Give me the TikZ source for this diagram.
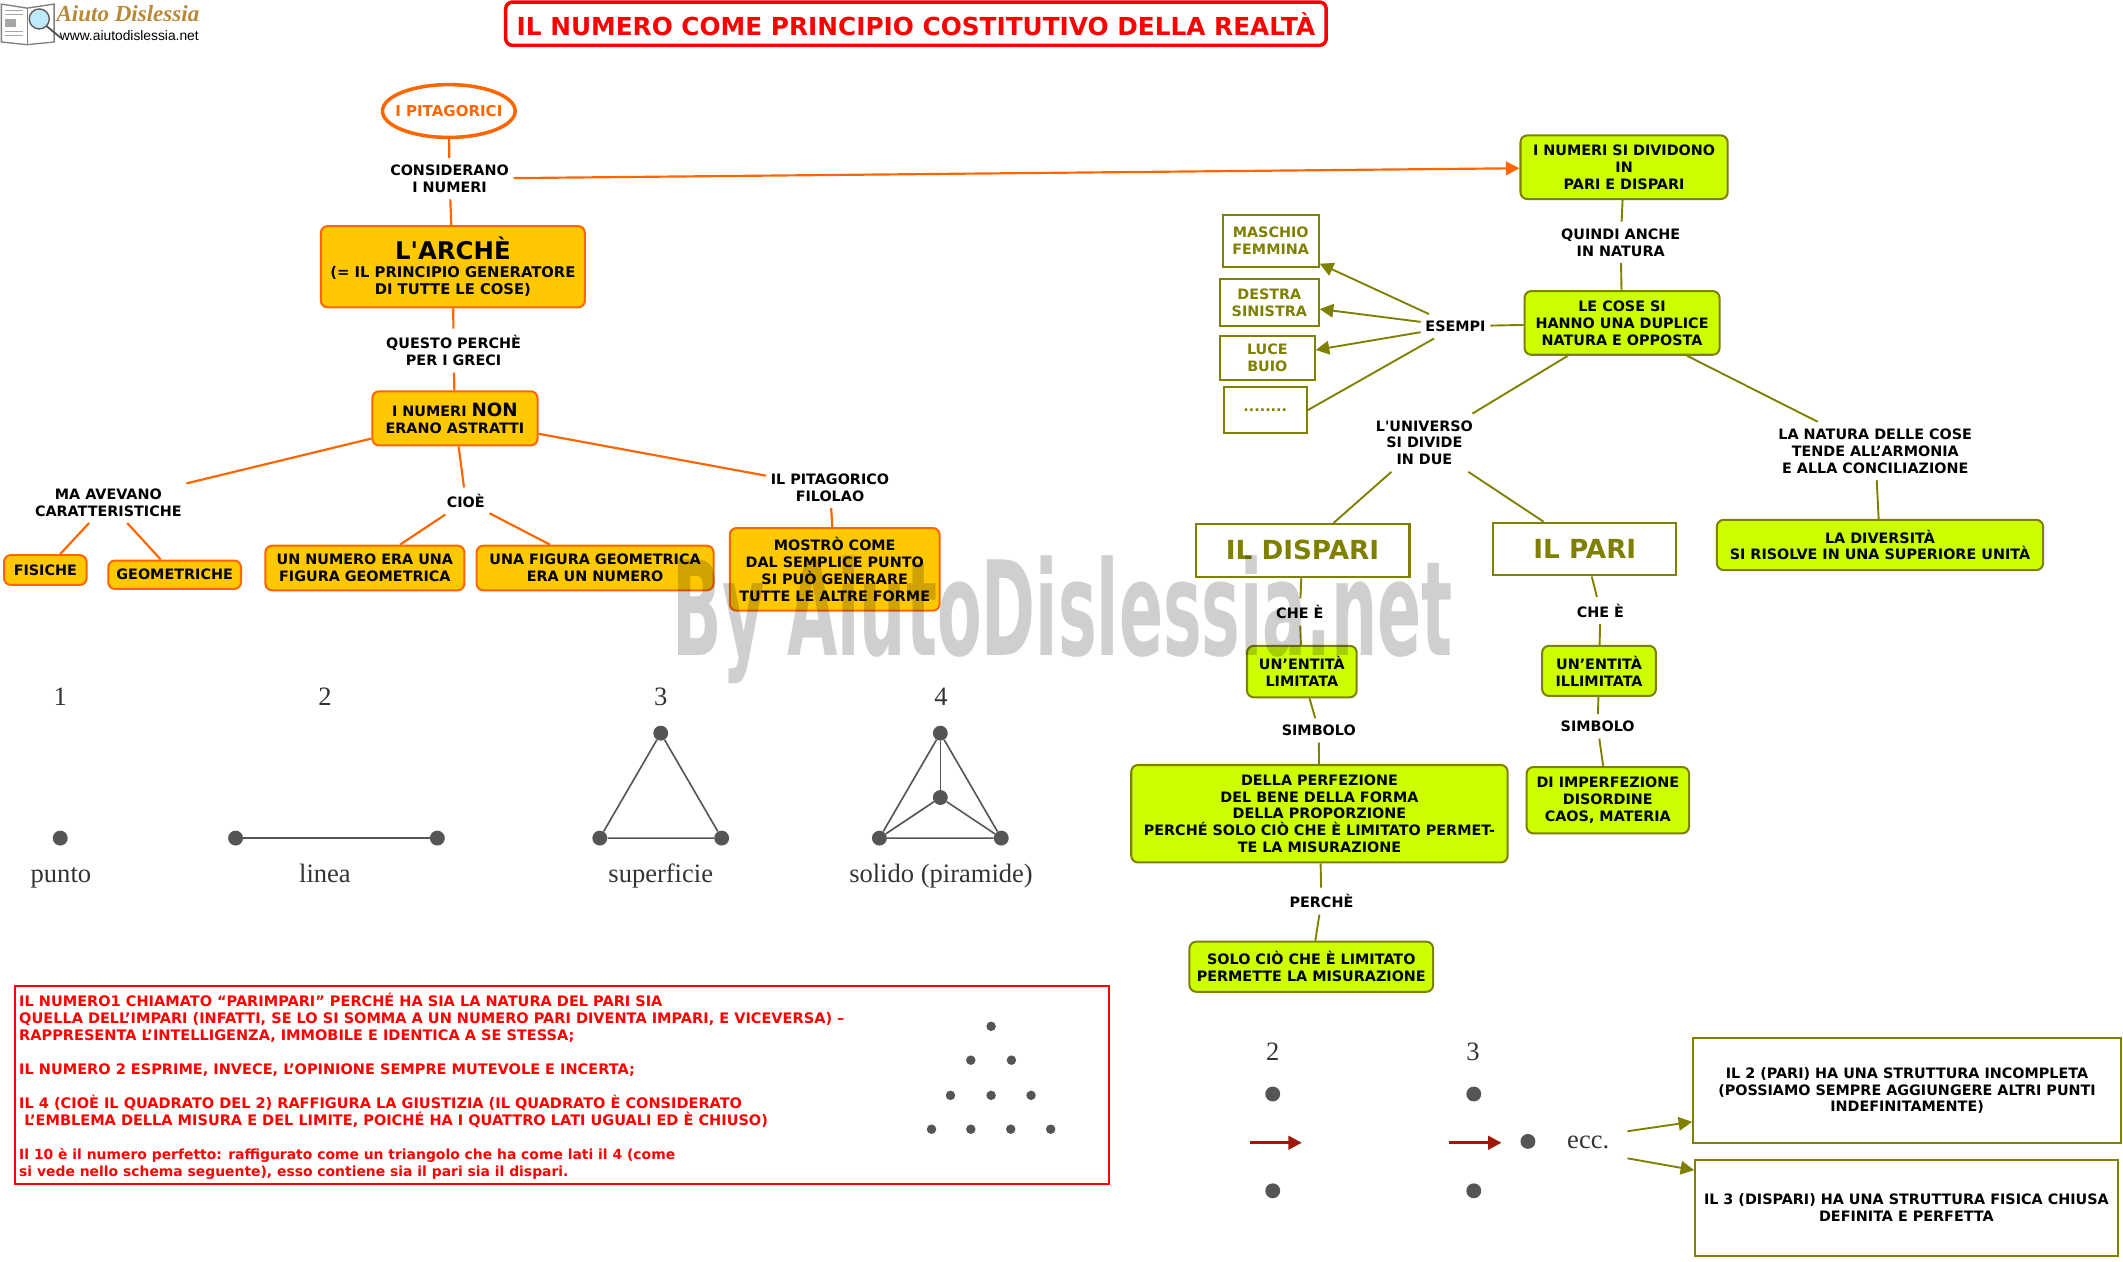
\documentclass[tikz,border=0pt]{standalone}
\usepackage{fontspec}
\usepackage{amsmath}
\usetikzlibrary{arrows.meta,shapes.geometric}
\setmainfont{DejaVu Sans}[Ligatures=TeXOff]
\newfontfamily\numfont{Liberation Serif}
\newfontfamily\webfont{Liberation Sans}
\definecolor{mapred}{HTML}{FF0000}
\definecolor{maporange}{HTML}{FF6600}
\definecolor{mapyellow}{HTML}{FFC800}
\definecolor{mapgreen}{HTML}{CCFF00}
\definecolor{mapolive}{HTML}{808000}
\definecolor{dotgray}{HTML}{555555}
\definecolor{arrowred}{HTML}{A01808}
\definecolor{logogold}{HTML}{B98A35}
\newcommand{\mapfont}{\bfseries\fontsize{10.6}{12.5}\selectfont}
\newcommand{\bigfont}{\bfseries\fontsize{18}{20}\selectfont}
\newcommand{\sidefont}{\bfseries\fontsize{19.4}{21}\selectfont}
\newcommand{\capsred}{\fontsize{10.72}{12.6}\selectfont}
\newcommand{\lowred}{\fontsize{10.27}{12.6}\selectfont}
\tikzset{
  linktext/.style={font=\mapfont,align=center,inner ysep=4.8pt},
  mapbox/.style={rounded corners=5pt,line width=1.5pt,font=\mapfont,align=center,inner sep=2pt},
  yellowbox/.style={mapbox,draw=maporange,fill=mapyellow},
  greenbox/.style={mapbox,draw=mapolive,fill=mapgreen},
  whitebox/.style={draw=mapolive,line width=1.5pt,font=\mapfont,align=center,inner sep=2pt,fill=white},
  olivebox/.style={whitebox,text=mapolive},
  orangelink/.style={color=maporange,line width=1.6pt},
  olivelink/.style={color=mapolive,line width=1.4pt},
  redarrow/.style={color=arrowred,line width=2.2pt},
  dot/.style={circle,fill=dotgray,inner sep=0pt,minimum size=11pt},
  smalldot/.style={circle,fill=dotgray,inner sep=0pt,minimum size=7pt},
  dotline/.style={draw=dotgray,line width=1.2pt},
  numtext/.style={font=\numfont\fontsize{19.6}{22}\selectfont,text=black!80,anchor=base},
}

\begin{document}
\begin{tikzpicture}[x=1pt,y=-1pt,>/.tip={Triangle[length=10pt,width=10pt]}]
\useasboundingbox (0,0) rectangle (1568,932);

% logo
\draw[gray,line width=1pt,fill=white] (1,3) -- (20,6) -- (40,3) -- (40,31) -- (20,33) -- (1,31) -- cycle;
\draw[gray] (20,6) -- (20,33);
\fill[gray!70] (4,14) rectangle (12,20);
\foreach \ly in {8,11,23,26}
  \draw[gray!70,line width=.7pt] (4,\ly) -- (17,\ly);
\draw[line width=1.3pt,black!70] (34,19) -- (45,28);
\draw[gray!70!black,line width=1pt,fill=cyan!25] (29,14) circle (7.4pt);
\node (logoname) [font=\numfont\bfseries\itshape\fontsize{17}{18}\selectfont,text=logogold] at (94.5,10) {Aiuto Dislessia};
\node (logoweb) [font=\webfont\fontsize{10.2}{12}\selectfont] at (95.5,26) {www.aiutodislessia.net};

% title
\draw (676.5,17.5) node (title) [draw=mapred,line width=2.6pt,rounded corners=5pt,minimum width=606pt,minimum height=32pt,text=mapred,font=\bfseries\fontsize{18.3}{20}\selectfont] {IL NUMERO COME PRINCIPIO COSTITUTIVO DELLA REALTÀ};

% left map
\draw (331.5,82) node (pitagorici) [ellipse,draw=maporange,line width=2.6pt,minimum width=98pt,minimum height=39pt,inner sep=0pt,inner xsep=-6pt,text=maporange,font=\bfseries\fontsize{11.1}{12.5}\selectfont] {I PITAGORICI};
\draw (332,132)  node (considerano) [linktext] {CONSIDERANO\\I NUMERI};
\draw (334.5,197) node (arche) [yellowbox,minimum width=195pt,minimum height=60pt] {{\bigfont L'ARCHÈ}\\[1pt]\fontsize{10.9}{12.5}\selectfont (= IL PRINCIPIO GENERATORE\\\fontsize{10.9}{12.5}\selectfont DI TUTTE LE COSE)};
\draw (335,259)  node (questo) [linktext] {QUESTO PERCHÈ\\PER I GRECI};
\draw (336,309)  node (nonastratti) [yellowbox,minimum width=122pt,minimum height=40pt] {I NUMERI {\fontsize{13.5}{14}\selectfont NON}\\ERANO ASTRATTI};
\draw (80,371)   node (avevano) [linktext] {MA AVEVANO\\CARATTERISTICHE};
\draw (344,370)  node (cioe) [linktext] {CIOÈ};
\draw (613,360)  node (filolao) [linktext] {IL PITAGORICO\\FILOLAO};
\draw (33.5,421) node (fisiche) [yellowbox,minimum width=61pt,minimum height=22pt] {FISICHE};
\draw (129,424.5) node (geometriche) [yellowbox,minimum width=98pt,minimum height=21pt] {GEOMETRICHE};
\draw (269.5,419.5) node (unnumero) [yellowbox,minimum width=147pt,minimum height=33pt] {UN NUMERO ERA UNA\\FIGURA GEOMETRICA};
\draw (439.5,419.5) node (unafigura) [yellowbox,minimum width=175pt,minimum height=33pt] {UNA FIGURA GEOMETRICA\\ERA UN NUMERO};
\draw (616.5,420.5) node (mostro) [yellowbox,minimum width=155pt,minimum height=61pt] {MOSTRÒ COME\\DAL SEMPLICE PUNTO\\SI PUÒ GENERARE\\TUTTE LE ALTRE FORME};

\draw[orangelink] (pitagorici) edge (considerano);
\draw[orangelink] (considerano) edge (arche);
\draw[orangelink] (arche) edge (questo);
\draw[orangelink] (questo) edge (nonastratti);
\draw[orangelink] (nonastratti) edge (avevano);
\draw[orangelink] (nonastratti) edge (cioe);
\draw[orangelink] (nonastratti) edge (filolao);
\draw[orangelink] (avevano) edge (fisiche);
\draw[orangelink] (avevano) edge (geometriche);
\draw[orangelink] (cioe) edge (unnumero);
\draw[orangelink] (cioe) edge (unafigura);
\draw[orangelink] (filolao) edge (mostro);

% figures 1 2 3 4
\node (uno)   [numtext] at (44.5,521) {1};
\node (due)   [numtext] at (240,521) {2};
\node (tre)   [numtext] at (488,521) {3};
\node (quattro) [numtext] at (695,521) {4};
\node (punto) [numtext] at (45,652) {punto};
\node (linea) [numtext] at (240,652) {linea};
\node (superficie) [numtext] at (488,652) {superficie};
\node (solido) [numtext] at (695,652) {solido (piramide)};
\node (pa) [dot] at (44.5,619) {};
\node (la) [dot] at (174,619) {};
\node (lb) [dot] at (323,619) {};
\node (sa) [dot] at (488,541.5) {};
\node (sb) [dot] at (443,619) {};
\node (sc) [dot] at (533,619) {};
\node (ta) [dot] at (694.5,541.5) {};
\node (tb) [dot] at (694.5,589) {};
\node (tc) [dot] at (649.5,619) {};
\node (td) [dot] at (739.5,619) {};
\draw[dotline] (la) -- (lb);
\draw[dotline] (sa) -- (sb) -- (sc) -- (sa);
\draw[dotline] (ta) -- (tc) -- (td) -- (ta);
\draw[dotline] (ta) -- (tb);
\draw[dotline] (tb) -- (tc);
\draw[dotline] (tb) -- (td);

% red box
\draw (415,801.5) node (redbox) [draw=mapred,line width=1.6pt,minimum width=808pt,minimum height=146pt] {};
\node (redtext) [anchor=north west,inner sep=0pt,text=mapred,align=left,font=\bfseries\capsred] at (14,733) {IL NUMERO1 CHIAMATO “PARIMPARI” PERCHÉ HA SIA LA NATURA DEL PARI SIA\\
QUELLA DELL’IMPARI (INFATTI, SE LO SI SOMMA A UN NUMERO PARI DIVENTA IMPARI, E VICEVERSA) –\\
RAPPRESENTA L’INTELLIGENZA, IMMOBILE E IDENTICA A SE STESSA;\\[12.6pt]
IL NUMERO 2 ESPRIME, INVECE, L’OPINIONE SEMPRE MUTEVOLE E INCERTA;\\[12.6pt]
IL 4 (CIOÈ IL QUADRATO DEL 2) RAFFIGURA LA GIUSTIZIA (IL QUADRATO È CONSIDERATO\\
\ L’EMBLEMA DELLA MISURA E DEL LIMITE, POICHÉ HA I QUATTRO LATI UGUALI ED È CHIUSO)\\[12.6pt]
\lowred Il 10 è il numero perfetto: raffigurato come un triangolo che ha come lati il 4 (come\\
\lowred si vede nello schema seguente), esso contiene sia il pari sia il dispari.};
\foreach \px/\py in {732/758,717/783,747/783,702/809,732/809,761.5/809,688/834,717/834,746.5/834,776/834}
  \node (t\px-\py) [smalldot] at (\px,\py) {};

% right map
\draw (1199.5,123.5) node (dividono) [greenbox,minimum width=153pt,minimum height=47pt] {I NUMERI SI DIVIDONO\\IN\\PARI E DISPARI};
\draw (1197,179)  node (quindi) [linktext] {QUINDI ANCHE\\IN NATURA};
\draw (1198,238.5) node (duplice) [greenbox,minimum width=144pt,minimum height=47pt] {LE COSE SI\\HANNO UNA DUPLICE\\NATURA E OPPOSTA};
\draw (1075,241) node (esempi) [linktext] {ESEMPI};
\draw (938.5,178) node (maschio) [olivebox,minimum width=71pt,minimum height=38pt] {MASCHIO\\FEMMINA};
\draw (937.5,223.5) node (destra) [olivebox,minimum width=73pt,minimum height=35pt] {DESTRA\\SINISTRA};
\draw (936,264.5) node (luce) [olivebox,minimum width=70pt,minimum height=33pt] {LUCE\\BUIO};
\draw (934.5,303) node (puntini) [olivebox,minimum width=61pt,minimum height=34pt] {........};
\draw (1052,327) node (universo) [linktext] {L'UNIVERSO\\SI DIVIDE\\IN DUE};
\draw (1385,333) node (armonia) [linktext] {LA NATURA DELLE COSE\\TENDE ALL’ARMONIA\\E ALLA CONCILIAZIONE};
\draw (1388.5,402.5) node (diversita) [greenbox,minimum width=241pt,minimum height=37pt] {LA DIVERSITÀ\\SI RISOLVE IN UNA SUPERIORE UNITÀ};
\draw (962,406.5) node (dispari) [olivebox,font=\sidefont,minimum width=158pt,minimum height=39pt] {IL DISPARI};
\draw (1170.5,405.5) node (pari) [olivebox,font=\sidefont,minimum width=135pt,minimum height=39pt] {IL PARI};
\draw (960,452) node (cheleft) [linktext] {CHE È};
\draw (1182,451) node (cheright) [linktext] {CHE È};
\draw (961.5,496) node (limitata) [greenbox,minimum width=81pt,minimum height=38pt] {UN’ENTITÀ\\LIMITATA};
\draw (1181,495.5) node (illimitata) [greenbox,minimum width=84pt,minimum height=37pt] {UN’ENTITÀ\\ILLIMITATA};
\draw (974,539.5) node (simbololeft) [linktext] {SIMBOLO};
\draw (1180,536.5) node (simboloright) [linktext] {SIMBOLO};
\draw (974.5,601) node (perfezione) [greenbox,minimum width=278pt,minimum height=72pt] {DELLA PERFEZIONE\\DEL BENE DELLA FORMA\\DELLA PROPORZIONE\\PERCHÉ SOLO CIÒ CHE È LIMITATO PERMET-\\TE LA MISURAZIONE};
\draw (1187.5,591) node (imperfezione) [greenbox,minimum width=120pt,minimum height=49pt] {DI IMPERFEZIONE\\DISORDINE\\CAOS, MATERIA};
\draw (976,665.5) node (perche) [linktext] {PERCHÈ};
\draw (968.5,714) node (solo) [greenbox,minimum width=180pt,minimum height=37pt] {SOLO CIÒ CHE È LIMITATO\\PERMETTE LA MISURAZIONE};

\draw[->,orangelink] (considerano) edge (dividono);
\draw[olivelink] (dividono) edge (quindi);
\draw[olivelink] (quindi) edge (duplice);
\draw[olivelink] (duplice) edge (esempi);
\draw[->,olivelink] (esempi) edge (maschio);
\draw[->,olivelink] (esempi) edge (destra);
\draw[->,olivelink] (esempi) edge (luce);
\draw[olivelink] (esempi) -- (puntini.east);
\draw[olivelink] (duplice) edge (universo);
\draw[olivelink] (duplice) edge (armonia);
\draw[olivelink] (armonia) edge (diversita);
\draw[olivelink] (universo) edge (dispari);
\draw[olivelink] (universo) edge (pari);
\draw[olivelink] (dispari) edge (cheleft);
\draw[olivelink] (cheleft) edge (limitata);
\draw[olivelink] (pari) edge (cheright);
\draw[olivelink] (cheright) edge (illimitata);
\draw[olivelink] (limitata) edge (simbololeft);
\draw[olivelink] (simbololeft) edge (perfezione);
\draw[olivelink] (illimitata) edge (simboloright);
\draw[olivelink] (simboloright) edge (imperfezione);
\draw[olivelink] (perfezione) edge (perche);
\draw[olivelink] (perche) edge (solo);

% figures pari dispari
\node (numdue) [numtext] at (940,783) {2};
\node (numtre) [numtext] at (1088,783) {3};
\node (ecc)    [numtext] at (1173,848) {ecc.};
\node (da) [dot] at (940,808) {};
\node (db) [dot] at (940,879.5) {};
\node (dc) [dot] at (1088.5,808) {};
\node (dd) [dot] at (1088.5,879.5) {};
\node (de) [dot] at (1128.5,843) {};
\coordinate (ra) at (923,844);
\coordinate (rb) at (961.5,844);
\coordinate (rc) at (1070,844);
\coordinate (rd) at (1109,844);
\draw[->,redarrow] (ra) -- (rb);
\draw[->,redarrow] (rc) -- (rd);
\draw (1408.5,805.5) node (incompleta) [whitebox,minimum width=316pt,minimum height=78pt] {IL 2 (PARI) HA UNA STRUTTURA INCOMPLETA\\(POSSIAMO SEMPRE AGGIUNGERE ALTRI PUNTI\\INDEFINITAMENTE)\\[-11pt]\mbox{}};
\draw (1408,892) node (chiusa) [whitebox,minimum width=312pt,minimum height=71pt] {IL 3 (DISPARI) HA UNA STRUTTURA FISICA CHIUSA\\DEFINITA E PERFETTA};
\coordinate (eccup) at (1202,835.5);
\coordinate (eccdown) at (1202,855.5);
\draw[->,olivelink] (eccup) -- (incompleta);
\draw[->,olivelink] (eccdown) -- (chiusa);

% watermark
\node (watermark) [transform shape,xscale=.495,text=black,text opacity=.19,font=\bfseries\fontsize{97}{100}\selectfont] at (785,458) {By AiutoDislessia.net};

\end{tikzpicture}
\end{document}
